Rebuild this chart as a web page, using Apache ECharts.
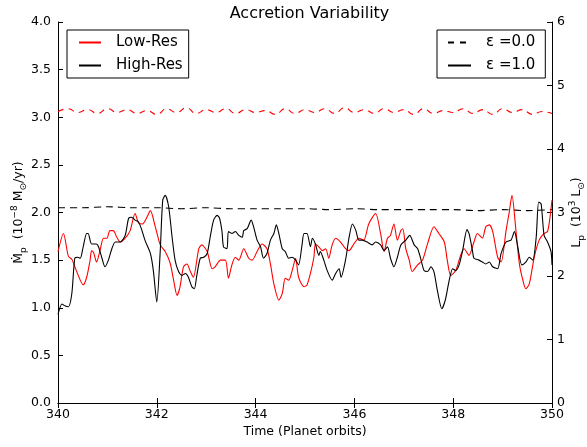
<!DOCTYPE html>
<html><head><meta charset="utf-8">
<script src="https://cdn.jsdelivr.net/npm/echarts@6/dist/echarts.min.js"></script>
<style>html,body{margin:0;padding:0;background:#fff}#c{width:587px;height:447px}</style>
</head><body><div id="c"></div>
<script>
// Low-Res, epsilon = 1.0 (red solid)
const lowResT = [340.00,340.11,340.21,340.28,340.34,340.45,340.51,340.58,340.65,340.68,
340.72,340.78,340.85,340.92,340.99,341.05,341.12,341.19,341.26,341.36,
341.46,341.56,341.63,341.71,341.80,341.87,341.97,342.07,342.17,342.27,
342.34,342.41,342.47,342.54,342.61,342.68,342.74,342.85,342.91,343.02,
343.12,343.18,343.29,343.39,343.45,343.52,343.59,343.66,343.76,343.86,
343.93,344.03,344.13,344.23,344.30,344.37,344.47,344.54,344.60,344.67,
344.74,344.81,344.87,344.98,345.04,345.11,345.18,345.21,345.28,345.35,
345.42,345.48,345.55,345.62,345.72,345.82,345.89,345.99,346.09,346.19,
346.29,346.43,346.53,346.60,346.67,346.73,346.80,346.87,346.94,346.98,
347.04,347.11,347.17,347.28,347.38,347.48,347.61,347.71,347.82,347.88,
347.95,348.05,348.15,348.22,348.32,348.42,348.49,348.59,348.66,348.73,
348.80,348.90,348.97,349.07,349.13,349.19,349.27,349.34,349.41,349.47,
349.54,349.64,349.74,349.84,349.91,349.96,350.00];
const lowResV = [1.59,1.78,1.54,1.51,1.43,1.29,1.24,1.32,1.50,1.60,
1.58,1.48,1.60,1.73,1.73,1.81,1.81,1.74,1.69,1.73,
1.81,1.99,1.89,1.88,1.95,2.02,1.85,1.66,1.59,1.47,
1.29,1.13,1.22,1.43,1.46,1.38,1.32,1.62,1.66,1.59,
1.41,1.43,1.50,1.50,1.31,1.45,1.53,1.50,1.62,1.52,
1.50,1.59,1.67,1.62,1.46,1.25,1.08,1.15,1.31,1.29,
1.39,1.52,1.32,1.22,1.24,1.36,1.53,1.67,1.64,1.60,
1.62,1.52,1.66,1.73,1.69,1.62,1.60,1.67,1.73,1.71,
1.88,1.99,1.78,1.59,1.73,1.76,1.88,1.71,1.81,1.83,
1.62,1.50,1.38,1.45,1.50,1.67,1.85,1.78,1.69,1.50,
1.34,1.39,1.55,1.62,1.55,1.69,1.78,1.73,1.85,1.87,
1.80,1.53,1.48,1.81,1.99,2.18,1.81,1.46,1.29,1.20,
1.25,1.53,1.71,1.78,1.80,1.95,2.13];

// High-Res, epsilon = 1.0 (black solid)
const highResT = [340.00,340.08,340.14,340.21,340.28,340.34,340.40,340.45,340.51,340.58,
340.61,340.68,340.78,340.82,340.89,340.95,341.02,341.09,341.16,341.26,
341.36,341.43,341.49,341.56,341.63,341.70,341.76,341.87,341.93,342.00,
342.07,342.12,342.17,342.24,342.31,342.37,342.44,342.51,342.58,342.64,
342.71,342.76,342.81,342.88,342.95,343.02,343.08,343.15,343.22,343.27,
343.32,343.35,343.42,343.45,343.52,343.59,343.66,343.73,343.76,343.83,
343.91,343.96,344.03,344.10,344.16,344.23,344.30,344.37,344.42,344.47,
344.54,344.60,344.67,344.74,344.81,344.87,344.94,344.98,345.04,345.11,
345.15,345.21,345.28,345.31,345.38,345.45,345.55,345.62,345.69,345.73,
345.82,345.89,345.96,346.03,346.09,346.16,346.26,346.36,346.43,346.53,
346.60,346.67,346.73,346.80,346.87,346.94,347.04,347.12,347.21,347.28,
347.34,347.41,347.48,347.55,347.61,347.68,347.77,347.84,347.92,347.99,
348.05,348.12,348.19,348.28,348.32,348.39,348.42,348.52,348.59,348.66,
348.73,348.80,348.90,348.97,349.07,349.17,349.24,349.30,349.39,349.47,
349.54,349.61,349.68,349.73,349.78,349.84,349.91,349.98,350.00];
const highResV = [0.93,1.04,1.02,1.01,1.15,1.52,1.53,1.52,1.64,1.78,
1.78,1.67,1.67,1.64,1.52,1.43,1.50,1.62,1.69,1.69,
1.76,1.94,1.95,1.92,1.90,1.81,1.71,1.57,1.39,1.06,
1.60,2.13,2.18,2.06,1.74,1.50,1.38,1.34,1.36,1.32,
1.22,1.20,1.34,1.52,1.53,1.57,1.74,1.92,1.97,1.94,
1.80,1.64,1.62,1.80,1.78,1.80,1.76,1.74,1.81,1.83,
1.92,1.85,1.71,1.64,1.52,1.57,1.71,1.78,1.87,1.78,
1.62,1.59,1.52,1.53,1.50,1.45,1.66,1.78,1.78,1.64,
1.73,1.67,1.55,1.59,1.50,1.39,1.29,1.36,1.41,1.32,
1.50,1.73,1.88,1.81,1.71,1.71,1.69,1.66,1.69,1.66,
1.60,1.64,1.52,1.43,1.53,1.66,1.71,1.76,1.66,1.62,
1.52,1.39,1.38,1.43,1.38,1.18,0.99,1.08,1.29,1.41,
1.39,1.45,1.60,1.82,1.78,1.60,1.52,1.50,1.48,1.46,
1.48,1.43,1.41,1.57,1.69,1.71,1.80,1.66,1.45,1.48,
1.53,1.50,1.74,2.11,2.09,1.76,1.69,1.59,1.45];

// Low-Res, epsilon = 0.0 (red dashed)
const lowRes0T = [340.0,340.2,340.4,340.6,340.8,341.0,341.2,341.4,341.6,341.8,
342.0,342.2,342.4,342.6,342.8,343.0,343.2,343.4,343.6,343.8,
344.0,344.2,344.4,344.6,344.8,345.0,345.2,345.4,345.6,345.8,
346.0,346.2,346.4,346.6,346.8,347.0,347.2,347.4,347.6,347.8,
348.0,348.2,348.4,348.6,348.8,349.0,349.2,349.4,349.6,349.8,350.0];
const lowRes0V = [3.06,3.09,3.05,3.08,3.04,3.09,3.05,3.08,3.04,3.07,
3.03,3.09,3.05,3.10,3.04,3.08,3.05,3.09,3.04,3.08,
3.05,3.07,3.03,3.09,3.04,3.08,3.05,3.09,3.04,3.10,
3.05,3.08,3.04,3.09,3.05,3.08,3.03,3.09,3.04,3.07,
3.05,3.09,3.04,3.08,3.03,3.09,3.05,3.08,3.03,3.06,3.04];

// High-Res, epsilon = 0.0 (black dashed)
const highRes0T = [340.0,340.5,341.0,341.5,342.0,342.5,343.0,343.5,344.0,344.5,345.0,
345.5,346.0,346.5,347.0,347.5,348.0,348.5,349.0,349.5,350.0];
const highRes0V = [2.05,2.05,2.06,2.05,2.05,2.04,2.05,2.04,2.04,2.04,2.04,
2.03,2.04,2.03,2.03,2.03,2.03,2.02,2.03,2.02,2.03];

const xTicks = [340,342,344,346,348,350];
const leftTicks = [0.0,0.5,1.0,1.5,2.0,2.5,3.0,3.5,4.0];
const rightTicks = [0,1,2,3,4,5,6];

const zip = (t, v) => t.map((x, i) => [x, v[i]]);
const FF = 'DejaVu Sans';
const RED = '#ff0000', BLK = '#000000';

const chart = echarts.init(document.getElementById('c'), null, {renderer: 'canvas'});

const axisCommon = {
  axisLine: {show: true, lineStyle: {color: '#000', width: 1}},
  axisTick: {show: true, inside: true, length: 5, lineStyle: {color: '#000'}},
  splitLine: {show: false},
  axisLabel: {color: '#000', fontFamily: FF, fontSize: 12.5}
};
const richName = {
  t: {fontFamily: FF, fontSize: 12.5, color: '#000', lineHeight: 18},
  sup: {fontFamily: FF, fontSize: 9, color: '#000', lineHeight: 10, verticalAlign: 'top'},
  sub: {fontFamily: FF, fontSize: 9, color: '#000', lineHeight: 10, verticalAlign: 'bottom'}
};
const legendCommon = {
  orient: 'vertical', top: 30,
  borderColor: '#000', borderWidth: 1, borderRadius: 0,
  itemGap: 8, itemHeight: 14,
  itemStyle: {color: 'transparent', borderColor: 'transparent', borderWidth: 0},
  textStyle: {fontFamily: FF, fontSize: 15, color: '#000', padding: [0, 0, 0, 10]}
};

const option = {
  animation: false,
  backgroundColor: '#fff',
  title: {
    text: 'Accretion Variability', left: 304.5, top: 1, textAlign: 'center',
    textStyle: {fontFamily: FF, fontSize: 16, fontWeight: 'normal', color: '#000'}
  },
  grid: {left: 58, right: 35, top: 22, bottom: 44, containLabel: false, outerBoundsMode: 'none'},
  legend: [
    Object.assign({}, legendCommon, {
      data: ['Low-Res', 'High-Res'], left: 67,
      padding: [5, 6, 5, 11], itemWidth: 22
    }),
    Object.assign({}, legendCommon, {
      data: ['ε =0.0', 'ε =1.0'], left: 437,
      padding: [5, 10, 5, 10], itemWidth: 23
    })
  ],
  xAxis: [
    Object.assign({}, axisCommon, {
      type: 'value', min: 340, max: 350, interval: 2, position: 'bottom',
      name: 'Time (Planet orbits)', nameLocation: 'middle', nameGap: 22, nameMoveOverlap: false,
      nameTextStyle: {fontFamily: FF, fontSize: 12.5, color: '#000'},
      axisLabel: Object.assign({}, axisCommon.axisLabel, {margin: 5,
        formatter: v => xTicks.includes(v) ? String(v) : ''})
    }),
    Object.assign({}, axisCommon, {
      type: 'value', min: 340, max: 350, interval: 2, position: 'top',
      axisLabel: {show: false}
    })
  ],
  yAxis: [
    Object.assign({}, axisCommon, {
      type: 'value', min: 0, max: 4, interval: 0.5, position: 'left',
      name: '{t|Ṁ}{sub|p}{t|  (10}{sup|−8}{t| M}{sub|⊙}{t|/yr)}',
      nameLocation: 'middle', nameGap: 30, nameRotate: 90, nameMoveOverlap: false,
      nameTextStyle: {fontFamily: FF, fontSize: 12.5, color: '#000', rich: richName},
      axisLabel: Object.assign({}, axisCommon.axisLabel, {margin: 7,
        formatter: v => leftTicks.includes(v) ? v.toFixed(1) : ''})
    }),
    Object.assign({}, axisCommon, {
      type: 'value', min: 0, max: 6, interval: 1, position: 'right',
      name: '{t|L}{sub|p}{t|  (10}{sup|3}{t| L}{sub|⊙}{t|)}',
      nameLocation: 'middle', nameGap: 16, nameRotate: 90, nameMoveOverlap: false,
      nameTextStyle: {fontFamily: FF, fontSize: 12.5, color: '#000', rich: richName},
      axisLabel: Object.assign({}, axisCommon.axisLabel, {margin: 5,
        formatter: v => rightTicks.includes(v) ? String(v) : ''})
    })
  ],
  series: [
    // legend-only entries
    {name: 'Low-Res', type: 'line', data: [], symbol: 'none', itemStyle: {color: RED}, lineStyle: {color: RED, width: 1}},
    {name: 'High-Res', type: 'line', data: [], symbol: 'none', itemStyle: {color: BLK}, lineStyle: {color: BLK, width: 1}},
    {name: 'ε =0.0', type: 'line', data: [], symbol: 'none', itemStyle: {color: BLK}, lineStyle: {color: BLK, width: 1, type: [6, 6]}},
    {name: 'ε =1.0', type: 'line', data: [], symbol: 'none', itemStyle: {color: BLK}, lineStyle: {color: BLK, width: 1}},
    // data series
    {name: 'Low-Res ε=0.0', type: 'line', data: zip(lowRes0T, lowRes0V), symbol: 'none', smooth: 0.5,
      lineStyle: {color: RED, width: 1.1, type: [6, 5]}, z: 2},
    {name: 'High-Res ε=0.0', type: 'line', data: zip(highRes0T, highRes0V), symbol: 'none', smooth: 0.3,
      lineStyle: {color: BLK, width: 1.1, type: [7, 5]}, z: 2},
    {name: 'Low-Res ε=1.0', type: 'line', data: zip(lowResT, lowResV), symbol: 'none', smooth: 0.25,
      lineStyle: {color: RED, width: 1.1}, z: 3},
    {name: 'High-Res ε=1.0', type: 'line', data: zip(highResT, highResV), symbol: 'none', smooth: 0.25,
      lineStyle: {color: BLK, width: 1.1}, z: 4}
  ]
};
chart.setOption(option);
</script>
</body></html>
